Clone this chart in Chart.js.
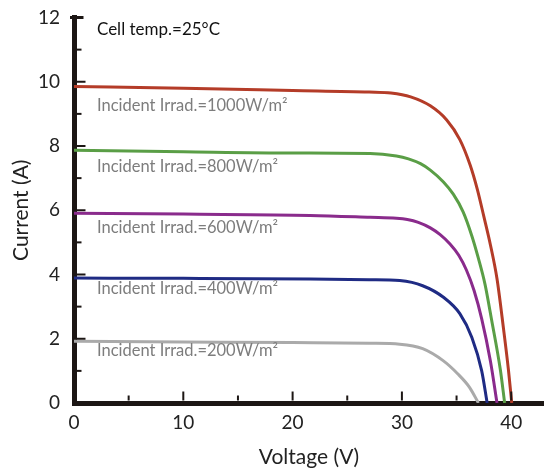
<!DOCTYPE html>
<html>
<head>
<meta charset="utf-8">
<script src="https://cdn.jsdelivr.net/npm/chart.js@4.4.1/dist/chart.umd.min.js"></script>
<style>
  html, body { margin: 0; padding: 0; background: #fff; }
</style>
</head>
<body>
<canvas id="myChart" width="544" height="470"></canvas>
<script>
// I-V curves, one pair of arrays per irradiance
var volt1000 = [0, 10, 20, 27, 29, 30.8, 32.6, 34.1, 35.3, 36.25, 36.9, 37.5, 38.1, 38.7, 39.3, 39.75, 40.05]
var curr1000 = [9.85, 9.8, 9.73, 9.68, 9.65, 9.53, 9.25, 8.81, 8.2, 7.4, 6.65, 5.8, 4.92, 3.87, 2.3, 1.02, 0]

var volt800 = [0, 10, 20, 27.1, 29.5, 30.6, 31.7, 32.6, 33.8, 34.7, 35.6, 36.4, 37.0, 37.6, 38.2, 39.0, 39.4]
var curr800 = [7.87, 7.82, 7.78, 7.77, 7.69, 7.6, 7.45, 7.25, 6.88, 6.5, 5.95, 5.2, 4.5, 3.7, 2.6, 1.05, 0]

var volt600 = [0, 10, 21.6, 27.1, 29.5, 30.5, 31.5, 32.6, 33.5, 34.4, 35.2, 35.9, 36.6, 37.3, 38.1, 38.7]
var curr600 = [5.91, 5.88, 5.84, 5.78, 5.75, 5.71, 5.62, 5.45, 5.24, 4.95, 4.6, 4.14, 3.5, 2.62, 1.3, 0]

var volt400 = [0, 10, 21.6, 27, 29.8, 31.9, 33.8, 35.3, 36.4, 37.3, 37.8]
var curr400 = [3.89, 3.88, 3.86, 3.84, 3.81, 3.65, 3.29, 2.78, 2.04, 1.0, 0]

var volt200 = [0, 10, 20, 27, 29.8, 31.9, 33.8, 35.1, 36.2, 37.0]
var curr200 = [1.92, 1.9, 1.88, 1.86, 1.83, 1.69, 1.31, 0.91, 0.48, 0]

var irradLabels = ['1000', '800', '600', '400', '200']
var cellTemp = '25'

var axisColor = '#1c1614'
var fontName = 'Lato'

function toPoints(vs, is) {
  return vs.map(function (v, k) { return { x: v, y: is[k] } })
}

function curve(label, vs, is, color) {
  return {
    label: label,
    data: toPoints(vs, is),
    borderColor: color,
    borderWidth: 3,
    pointRadius: 0,
    fill: false,
    cubicInterpolationMode: 'monotone'
  }
}

// tick marks pointing into the plot, long ones at labelled values
var insideTicks = {
  id: 'insideTicks',
  afterDraw: function (chart) {
    var ctx = chart.ctx
    var xs = chart.scales.x
    var ys = chart.scales.y
    var area = chart.chartArea
    ctx.save()
    ctx.strokeStyle = axisColor
    ctx.lineWidth = 2
    var base = area.bottom - 2.5
    xs.ticks.forEach(function (t) {
      if (t.value === 0) return
      var px = xs.getPixelForValue(t.value)
      var len = t.value % 10 === 0 ? 9 : 5
      ctx.beginPath()
      ctx.moveTo(px, base)
      ctx.lineTo(px, base - len)
      ctx.stroke()
    })
    var edge = area.left + 2.5
    ys.ticks.forEach(function (t) {
      if (t.value === 0) return
      var py = ys.getPixelForValue(t.value)
      ctx.beginPath()
      if (t.value === ys.max) {
        ctx.lineWidth = 3
        ctx.moveTo(area.left - 4, py)
        ctx.lineTo(edge + 7, py)
      } else {
        ctx.lineWidth = 2
        ctx.moveTo(edge, py)
        ctx.lineTo(edge + (t.value % 2 === 0 ? 9 : 5), py)
      }
      ctx.stroke()
    })
    ctx.restore()
  }
}

// curve captions and the cell temperature note
var captions = {
  id: 'captions',
  afterDatasetsDraw: function (chart, args, opts) {
    var ctx = chart.ctx
    var xs = chart.scales.x
    var ys = chart.scales.y
    ctx.save()
    ctx.textBaseline = 'alphabetic'
    ctx.textAlign = 'left'
    ctx.font = '17px ' + fontName
    ctx.fillStyle = '#111'
    ctx.fillText(opts.note.text, xs.getPixelForValue(opts.note.x), ys.getPixelForValue(opts.note.y))
    ctx.font = '16.5px ' + fontName
    ctx.fillStyle = '#7d7d7d'
    opts.items.forEach(function (it) {
      ctx.fillText(it.text, xs.getPixelForValue(it.x), ys.getPixelForValue(it.y))
    })
    ctx.restore()
  }
}

var ctx = document.getElementById('myChart')
var ivChart = new Chart(ctx, {
  type: 'line',
  data: {
    datasets: [
      curve(irradLabels[0], volt1000, curr1000, '#b43c28'),
      curve(irradLabels[1], volt800, curr800, '#5a9e46'),
      curve(irradLabels[2], volt600, curr600, '#8a2b8c'),
      curve(irradLabels[3], volt400, curr400, '#1f2b84'),
      curve(irradLabels[4], volt200, curr200, '#aaaaaa')
    ]
  },
  options: {
    responsive: false,
    animation: false,
    layout: { padding: { top: 17.5, left: 0, right: 0, bottom: 0 } },
    plugins: {
      legend: { display: false },
      tooltip: { enabled: false },
      captions: {
        note: { text: 'Cell temp.=' + cellTemp + '°C', x: 2.1, y: 11.44 },
        items: [
          { text: 'Incident Irrad.=' + irradLabels[0] + 'W/m²', x: 2.1, y: 9.1 },
          { text: 'Incident Irrad.=' + irradLabels[1] + 'W/m²', x: 2.1, y: 7.2 },
          { text: 'Incident Irrad.=' + irradLabels[2] + 'W/m²', x: 2.1, y: 5.28 },
          { text: 'Incident Irrad.=' + irradLabels[3] + 'W/m²', x: 2.1, y: 3.38 },
          { text: 'Incident Irrad.=' + irradLabels[4] + 'W/m²', x: 2.1, y: 1.46 }
        ]
      }
    },
    scales: {
      x: {
        type: 'linear',
        min: 0,
        max: 43,
        z: 1,
        grid: { display: false, drawTicks: false, tickLength: 0 },
        border: { display: true, color: axisColor, width: 5 },
        ticks: {
          stepSize: 5,
          includeBounds: false,
          padding: 8,
          color: '#222',
          font: { family: fontName, size: 19 },
          callback: function (v) { return v % 10 === 0 ? v : '' }
        },
        title: {
          display: true,
          text: 'Voltage (V)',
          color: '#222',
          font: { family: fontName, size: 21 },
          padding: { top: 0, bottom: 0 }
        },
        afterFit: function (s) {
          s.height = 67
          s.paddingLeft = 0
          s.paddingRight = 0
        }
      },
      y: {
        type: 'linear',
        min: 0,
        max: 12,
        z: 1,
        grid: { display: false, drawTicks: false, tickLength: 0 },
        border: { display: true, color: axisColor, width: 5 },
        ticks: {
          stepSize: 1,
          padding: 14,
          color: '#222',
          font: { family: fontName, size: 19 },
          callback: function (v) { return v % 2 === 0 ? v : '' }
        },
        title: {
          display: true,
          text: 'Current (A)',
          color: '#222',
          font: { family: fontName, size: 21 },
          padding: { top: 9, bottom: 0 }
        },
        afterFit: function (s) {
          s.width = 74
          s.paddingTop = 0
          s.paddingBottom = 0
        }
      }
    }
  },
  plugins: [insideTicks, captions]
})
</script>
</body>
</html>
